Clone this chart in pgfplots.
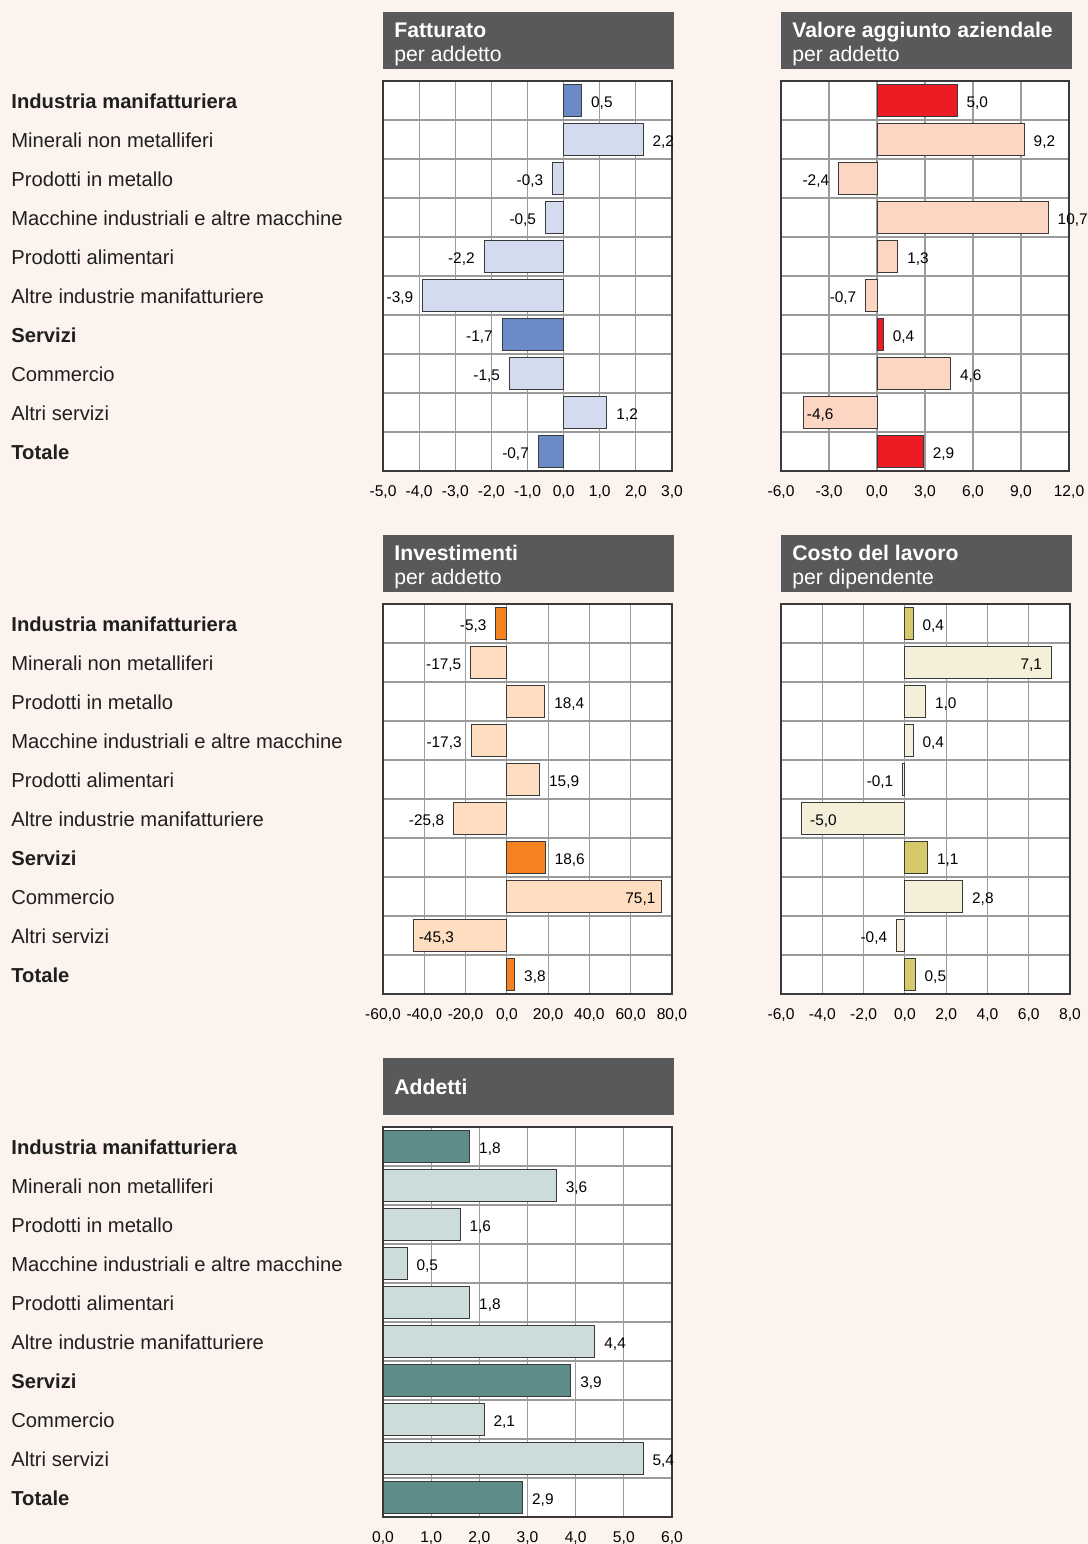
\documentclass[border=0pt]{standalone}
\usepackage{fontspec}
\setmainfont{Liberation Sans}
\usepackage{pgfplots}
\pgfplotsset{compat=1.18}
\definecolor{bgc}{HTML}{FDF3EE}
\definecolor{hdrc}{HTML}{58595B}
\definecolor{gridc}{HTML}{9B9B9B}
\definecolor{axisc}{HTML}{3A3A3A}
\definecolor{barc}{HTML}{3A3A3A}
\definecolor{fatD}{HTML}{6B8BC8}
\definecolor{fatL}{HTML}{D3DBEE}
\definecolor{vaD}{HTML}{ED1C24}
\definecolor{vaL}{HTML}{FCD5C3}
\definecolor{invD}{HTML}{F58220}
\definecolor{invL}{HTML}{FEDDC0}
\definecolor{cosD}{HTML}{D6C96B}
\definecolor{cosL}{HTML}{F3EFD8}
\definecolor{addD}{HTML}{5E8D89}
\definecolor{addL}{HTML}{CCDCDB}

\pgfplotsset{
  panel/.style={
    scale only axis, width=144.5pt, height=195pt, anchor=north west,
    xbar, bar width=0.82, bar shift=0pt,
    y dir=reverse, ymin=0.5, ymax=10.5,
    ytick={1.5,2.5,3.5,4.5,5.5,6.5,7.5,8.5,9.5}, yticklabels={},
    ymajorgrids, xmajorgrids, major tick length=0pt,
    axis background/.style={fill=white},
    axis line style={draw=axisc, line width=0.75pt},
    grid style={draw=gridc, line width=0.6pt},
    xticklabel style={font=\fontsize{7.8}{9}\selectfont, anchor=base, yshift=-12.5pt,
      /pgf/number format/.cd, fixed, fixed zerofill, precision=1, use comma, 1000 sep={}, assume math mode=true},
    nodes near coords, point meta=explicit symbolic,
    visualization depends on={value \thisrow{a} \as \anc},
    visualization depends on={\thisrow{d} \as \dx},
    every node near coord/.append style={font=\fontsize{7.7}{9}\selectfont, anchor=\anc, xshift=\dx pt, yshift=-1.5pt, inner sep=0pt, text=black},
    every axis plot/.append style={draw=barc, line width=0.5pt},
    clip=false,
  }
}

\newcommand{\cats}[1]{%
  \foreach \t/\f [count=\i from 0] in {Industria manifatturiera/\bfseries, Minerali non metalliferi/\mdseries, Prodotti in metallo/\mdseries, Macchine industriali e altre macchine/\mdseries, Prodotti alimentari/\mdseries, Altre industrie manifatturiere/\mdseries, Servizi/\bfseries, Commercio/\mdseries, Altri servizi/\mdseries, Totale/\bfseries}{
    \node[anchor=base west, inner sep=0pt, text=black!88, font=\fontsize{10.1}{12}\selectfont\f] at ({11*0.5pt}, {-(#1+7+39*\i)*0.5pt}) {\t};
  }}

\newcommand{\hdr}[4]{%
  \fill[hdrc] ({#1*0.5pt},{-#2*0.5pt}) rectangle ({(#1+291)*0.5pt},{-(#2+57)*0.5pt});
  \node[anchor=base west, inner sep=0pt, text=white, font=\fontsize{10.6}{12}\selectfont\bfseries] at ({(#1+11)*0.5pt},{-(#2+25)*0.5pt}) {#3};
  \node[anchor=base west, inner sep=0pt, text=white, font=\fontsize{10.6}{12}\selectfont] at ({(#1+11)*0.5pt},{-(#2+49)*0.5pt}) {#4};}

\begin{document}
\begin{tikzpicture}
\fill[bgc] (0,0) rectangle (544pt,-772pt);

\cats{101}
\cats{624}
\cats{1147}

\hdr{383}{12}{Fatturato}{per addetto}
\hdr{781}{12}{Valore aggiunto aziendale}{per addetto}
\hdr{383}{535}{Investimenti}{per addetto}
\hdr{781}{535}{Costo del lavoro}{per dipendente}
\fill[hdrc] ({383*0.5pt},{-1058*0.5pt}) rectangle ({674*0.5pt},{-1115*0.5pt});
\node[anchor=base west, inner sep=0pt, text=white, font=\fontsize{10.6}{12}\selectfont\bfseries] at ({394*0.5pt},{-1094*0.5pt}) {Addetti};

% Fatturato
\begin{axis}[panel, at={(383*0.5pt,-81*0.5pt)}, xmin=-5, xmax=3, xtick={-5,-4,...,3}]
\addplot[fill=fatL] table[x=x,y=y,meta=lab] {
y x lab a d
2 2.2 2,2 west 4.5
3 -0.3 -0,3 east -4.5
4 -0.5 -0,5 east -4.5
5 -2.2 -2,2 east -4.5
6 -3.9 -3,9 east -4.5
8 -1.5 -1,5 east -4.5
9 1.2 1,2 west 4.5
};
\addplot[fill=fatD] table[x=x,y=y,meta=lab] {
y x lab a d
1 0.5 0,5 west 4.5
7 -1.7 -1,7 east -4.5
10 -0.7 -0,7 east -4.5
};
\end{axis}

% Valore aggiunto
\begin{axis}[panel, width=144pt, at={(781*0.5pt,-81*0.5pt)}, xmin=-6, xmax=12, xtick={-6,-3,...,12}]
\addplot[fill=vaL] table[x=x,y=y,meta=lab] {
y x lab a d
2 9.2 9,2 west 4.5
3 -2.4 -2,4 east -4.5
4 10.7 10,7 west 4.5
5 1.3 1,3 west 4.5
6 -0.7 -0,7 east -4.5
8 4.6 4,6 west 4.5
9 -4.6 -4,6 west 1.5
};
\addplot[fill=vaD] table[x=x,y=y,meta=lab] {
y x lab a d
1 5.0 5,0 west 4.5
7 0.4 0,4 west 4.5
10 2.9 2,9 west 4.5
};
\end{axis}

% Investimenti
\begin{axis}[panel, at={(383*0.5pt,-604*0.5pt)}, xmin=-60, xmax=80, xtick={-60,-40,...,80}]
\addplot[fill=invL] table[x=x,y=y,meta=lab] {
y x lab a d
2 -17.5 -17,5 east -4.5
3 18.4 18,4 west 4.5
4 -17.3 -17,3 east -4.5
5 15.9 15,9 west 4.5
6 -25.8 -25,8 east -4.5
8 75.1 75,1 east -3
9 -45.3 -45,3 west 2.5
};
\addplot[fill=invD] table[x=x,y=y,meta=lab] {
y x lab a d
1 -5.3 -5,3 east -4.5
7 18.6 18,6 west 4.5
10 3.8 3,8 west 4.5
};
\end{axis}

% Costo del lavoro
\begin{axis}[panel, at={(781*0.5pt,-604*0.5pt)}, xmin=-6, xmax=8, xtick={-6,-4,...,8}]
\addplot[fill=cosL] table[x=x,y=y,meta=lab] {
y x lab a d
2 7.1 7,1 east -4.5
3 1.0 1,0 west 4.5
4 0.4 0,4 west 4.5
5 -0.1 -0,1 east -4.5
6 -5.0 -5,0 west 4
8 2.8 2,8 west 4.5
9 -0.4 -0,4 east -4.5
};
\addplot[fill=cosD] table[x=x,y=y,meta=lab] {
y x lab a d
1 0.4 0,4 west 4.5
7 1.1 1,1 west 4.5
10 0.5 0,5 west 4.5
};
\end{axis}

% Addetti
\begin{axis}[panel, at={(383*0.5pt,-1127*0.5pt)}, xmin=0, xmax=6, xtick={0,1,...,6}]
\addplot[fill=addL] table[x=x,y=y,meta=lab] {
y x lab a d
2 3.6 3,6 west 4.5
3 1.6 1,6 west 4.5
4 0.5 0,5 west 4.5
5 1.8 1,8 west 4.5
6 4.4 4,4 west 4.5
8 2.1 2,1 west 4.5
9 5.4 5,4 west 4.5
};
\addplot[fill=addD] table[x=x,y=y,meta=lab] {
y x lab a d
1 1.8 1,8 west 4.5
7 3.9 3,9 west 4.5
10 2.9 2,9 west 4.5
};
\end{axis}

\pgfresetboundingbox
\useasboundingbox (0,0) rectangle (544pt,-772pt);
\end{tikzpicture}
\end{document}
